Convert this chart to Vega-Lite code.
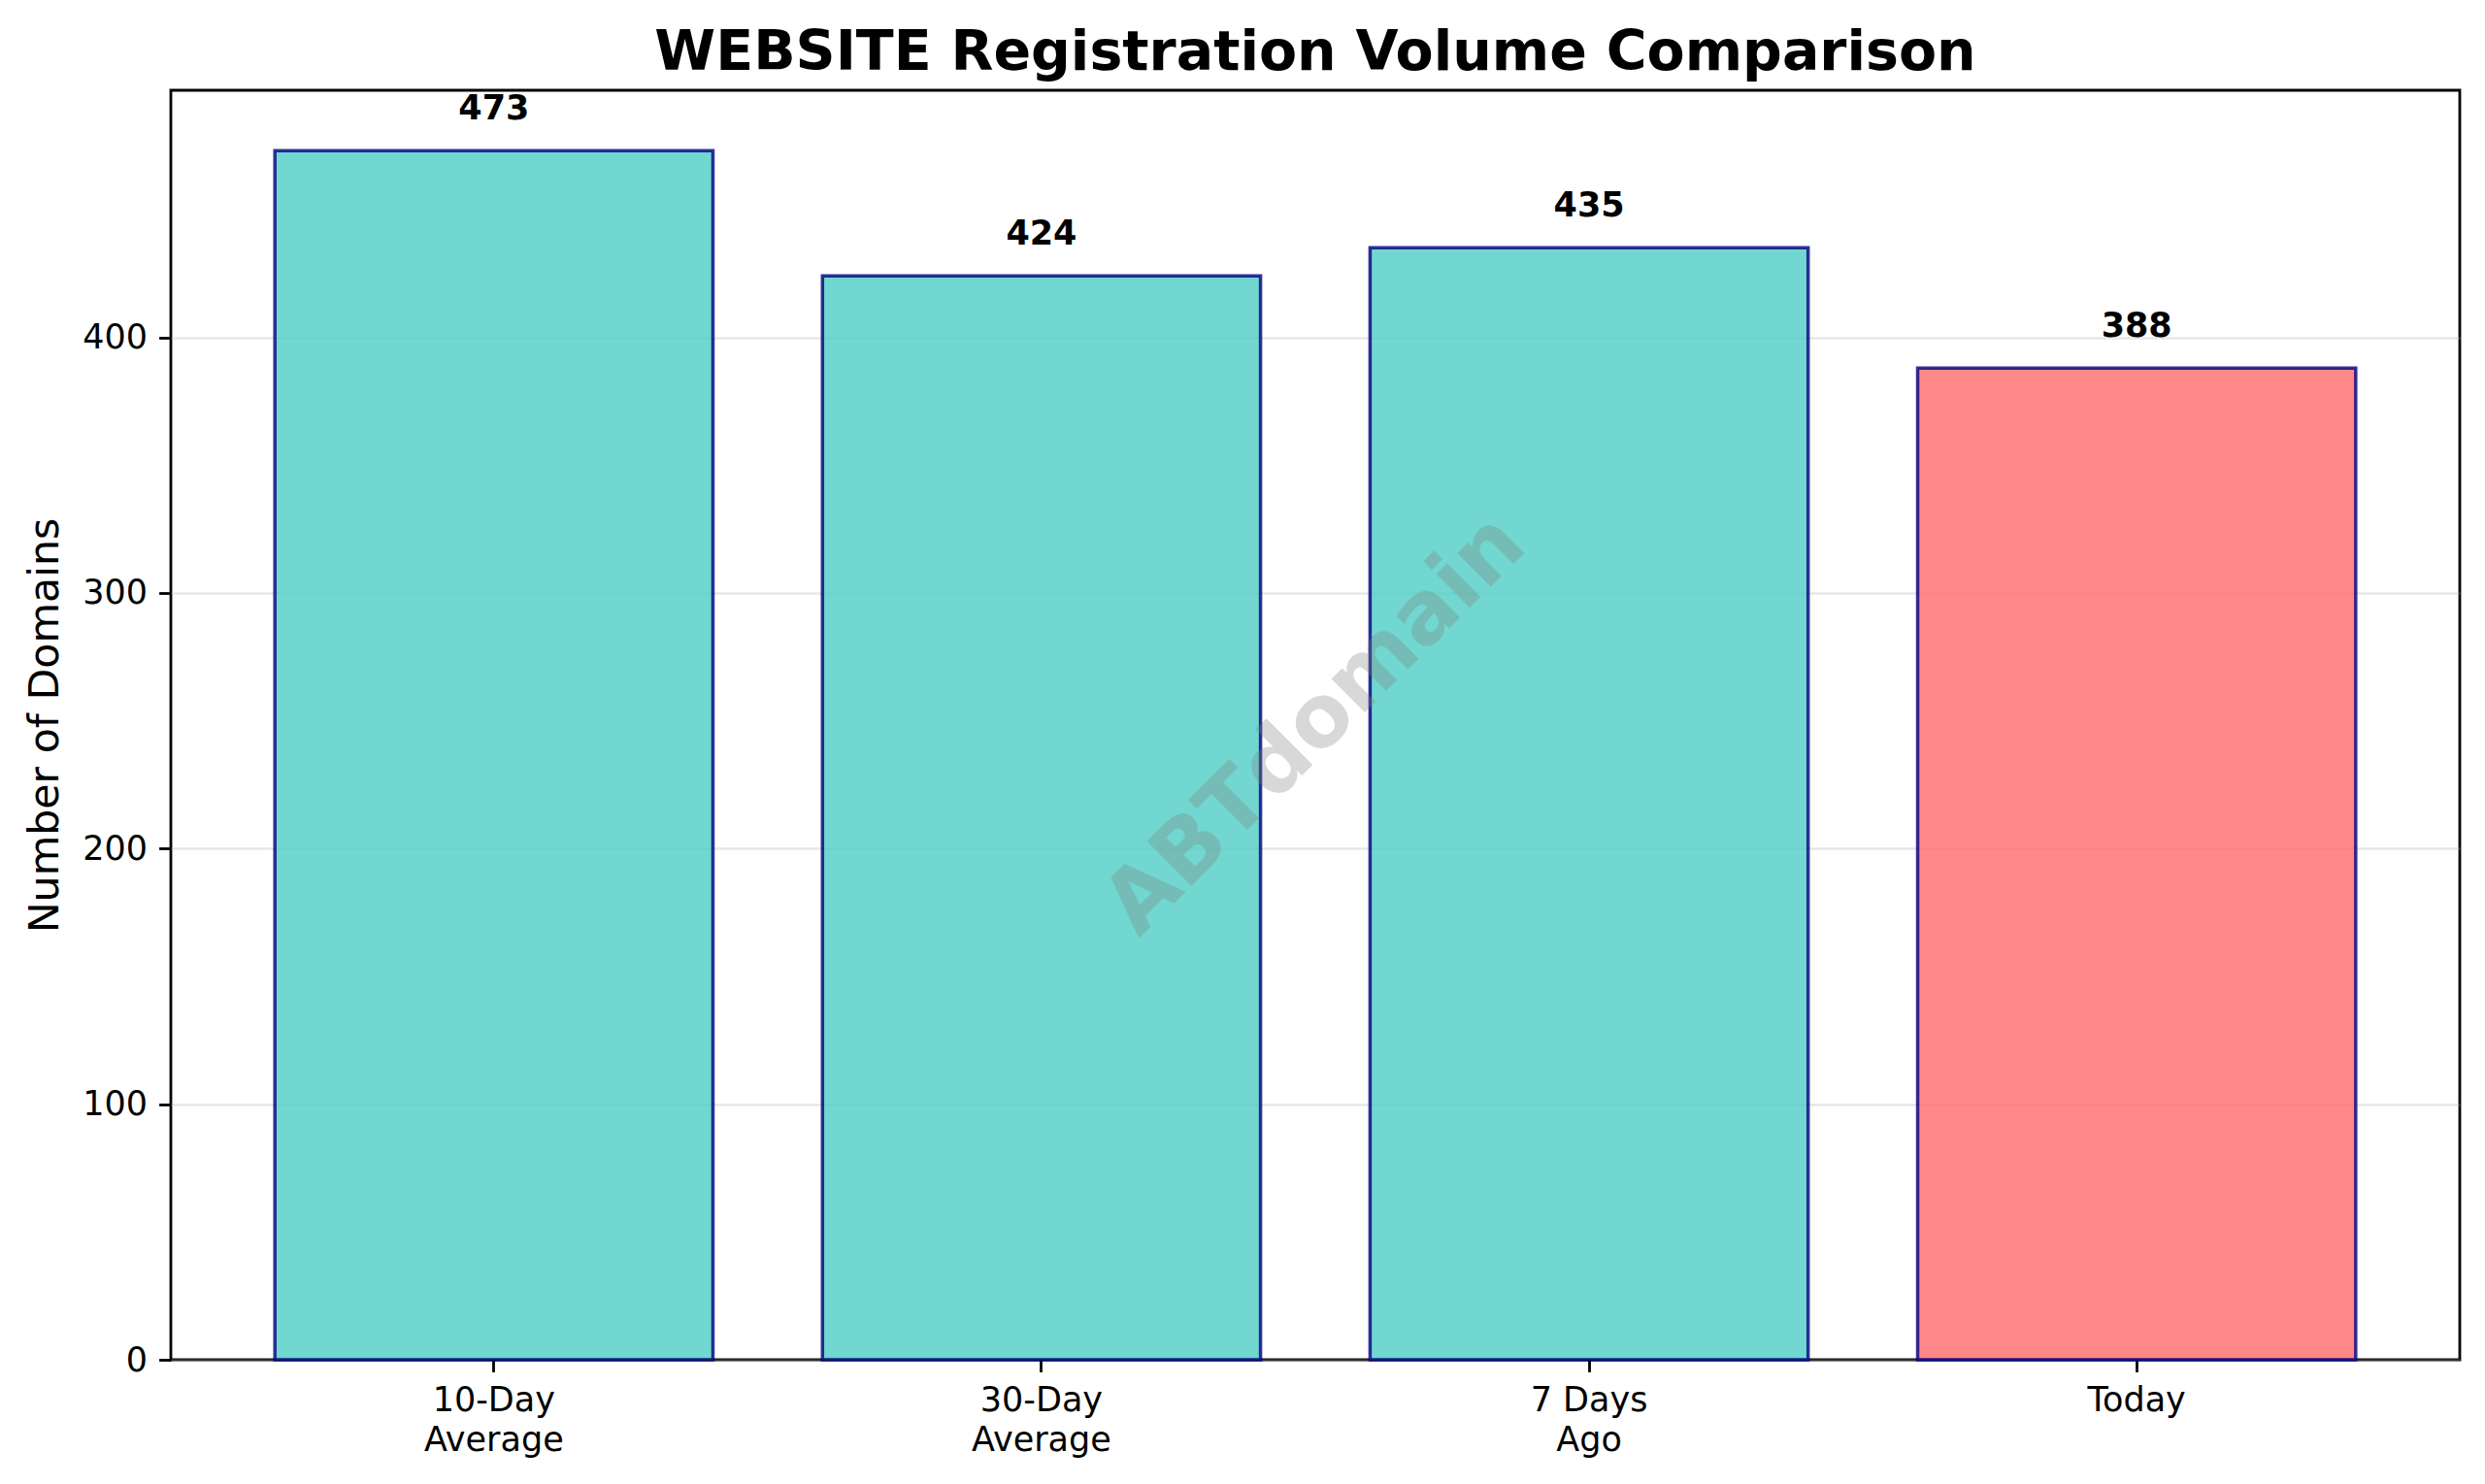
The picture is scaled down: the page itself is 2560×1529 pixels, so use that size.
{
  "$schema": "https://vega.github.io/schema/vega-lite/v6.json",
  "autosize": {"type": "none"},
  "padding": {"left": 176, "top": 93, "right": 26, "bottom": 128},
  "width": 2358,
  "height": 1308,
  "background": "white",
  "config": {
    "font": "DejaVu Sans",
    "view": {"stroke": "#000000", "strokeWidth": 2.8},
    "axis": {
      "domain": false,
      "tickColor": "#000000",
      "tickWidth": 2.8,
      "tickSize": 12.4,
      "labelColor": "#000000",
      "labelFont": "DejaVu Sans",
      "labelFontSize": 35,
      "labelPadding": 12,
      "titleFont": "DejaVu Sans",
      "titleColor": "#000000",
      "titleFontWeight": "normal"
    }
  },
  "title": {
    "text": "WEBSITE Registration Volume Comparison",
    "font": "DejaVu Sans",
    "fontSize": 57,
    "fontWeight": "bold",
    "color": "#000000",
    "anchor": "middle",
    "baseline": "alphabetic",
    "offset": 21,
    "dy": 57
  },
  "datasets": {
    "bars": [
      {"period": "10-Day\nAverage", "domains": 473},
      {"period": "30-Day\nAverage", "domains": 424},
      {"period": "7 Days\nAgo", "domains": 435},
      {"period": "Today", "domains": 388}
    ],
    "mark": [
      {"label": "ABTdomain", "px": 0.5, "py": 0.5}
    ]
  },
  "layer": [
    {
      "data": {"name": "bars"},
      "layer": [
        {
          "mark": {"type": "bar", "fillOpacity": 0.8, "stroke": "#000080", "strokeOpacity": 0.8, "strokeWidth": 3.5},
          "encoding": {
            "x": {
              "field": "period", "type": "nominal", "sort": null,
              "scale": {"paddingInner": 0.2, "paddingOuter": 0.19},
              "axis": {"title": null, "labelAngle": 0, "labelExpr": "split(datum.label, '\\n')", "labelLineHeight": 41, "labelBaseline": "top", "grid": false}
            },
            "y": {
              "field": "domains", "type": "quantitative",
              "scale": {"domain": [0, 496.65], "nice": false, "zero": true},
              "axis": {"title": "Number of Domains", "titleFontSize": 42.7, "titlePadding": 16, "values": [0, 100, 200, 300, 400], "grid": true, "gridColor": "#b0b0b0", "gridOpacity": 0.3, "gridWidth": 2.5}
            },
            "color": {
              "field": "period", "type": "nominal",
              "scale": {"domain": ["10-Day\nAverage", "30-Day\nAverage", "7 Days\nAgo", "Today"], "range": ["#4ECDC4", "#4ECDC4", "#4ECDC4", "#FF6B6B"]},
              "legend": null
            }
          }
        },
        {
          "mark": {"type": "text", "fontWeight": "bold", "fontSize": 35, "color": "#000000", "baseline": "alphabetic", "align": "center", "dy": -32},
          "encoding": {
            "x": {"field": "period", "type": "nominal", "sort": null},
            "y": {"field": "domains", "type": "quantitative"},
            "text": {"field": "domains", "type": "quantitative"}
          }
        }
      ]
    },
    {
      "data": {"name": "mark"},
      "mark": {"type": "text", "fontWeight": "bold", "fontSize": 89, "color": "#808080", "opacity": 0.3, "angle": 315, "align": "center", "baseline": "middle"},
      "encoding": {
        "x": {"field": "px", "type": "quantitative", "scale": {"domain": [0, 1]}, "axis": null},
        "y": {"field": "py", "type": "quantitative", "scale": {"domain": [0, 1]}, "axis": null},
        "text": {"field": "label"}
      }
    }
  ],
  "resolve": {"scale": {"x": "independent", "y": "independent"}}
}
